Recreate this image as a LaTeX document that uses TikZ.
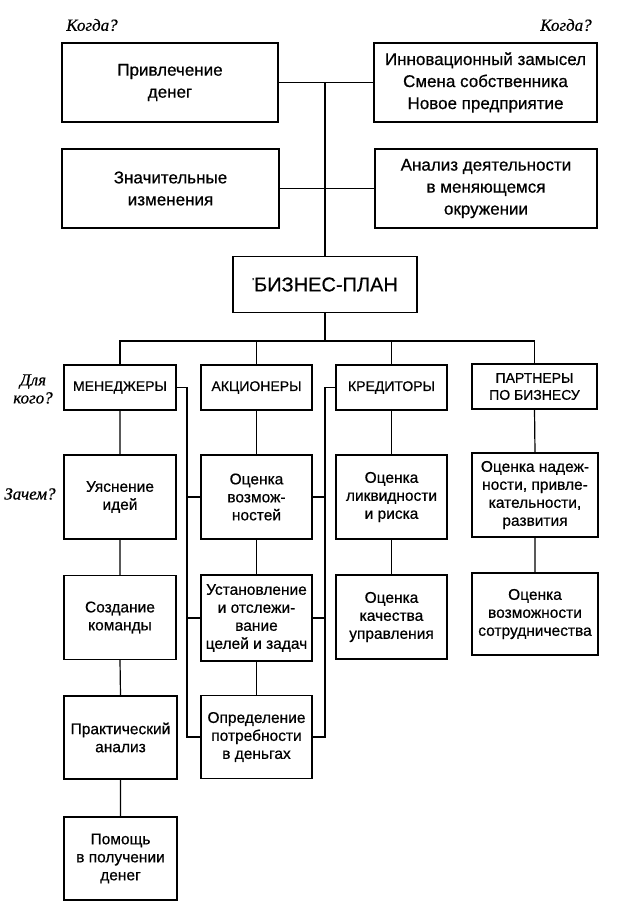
\documentclass[tikz,border=0pt]{standalone}
\usepackage{fontspec}
\setmainfont{Liberation Sans}[FakeBold=0.6]
\newfontfamily\labelfont{Liberation Serif}[FakeBold=0.6]
\begin{document}
\begin{tikzpicture}[x=1pt,y=-1pt,
  box/.style={draw, line width=1.3pt, inner sep=0pt, outer sep=0pt, align=center, text=black},
  big/.style={box, font=\fontsize{17}{22}\selectfont},
  capbox/.style={box, font=\fontsize{14}{17}\selectfont, minimum height=45pt},
  small/.style={box, font=\fontsize{15.5}{18}\selectfont},
  conn/.style={line width=1.2pt},
  lbl/.style={font=\labelfont\itshape\fontsize{17}{18}\selectfont, inner sep=0pt, align=center}]
\useasboundingbox (0,0) rectangle (625,909);

% labels
\node[lbl] (q1) at (92,25) {Когда?};
\node[lbl] (q2) at (566,25) {Когда?};
\node[lbl] (q3) at (33,389) {Для\\кого?};
\node[lbl] (q4) at (30,494) {Зачем?};

% top boxes
\node[big, minimum width=216pt, minimum height=79pt] (b1) at (170,82.5) {Привлечение\\денег};
\node[big, minimum width=223pt, minimum height=79pt] (b2) at (485.5,82.5) {Инновационный замысел\\Смена собственника\\Новое предприятие};
\node[big, minimum width=217pt, minimum height=79pt] (b3) at (170.5,188.5) {Значительные\\изменения};
\node[big, minimum width=222pt, minimum height=79pt] (b4) at (486,188.5) {Анализ деятельности\\в меняющемся\\окружении};
\node[box, minimum width=184pt, minimum height=56pt, font=\fontsize{20}{24}\selectfont] (bp) at (325,284.5) {\raisebox{7pt}{\fontsize{9}{9}\selectfont '}БИЗНЕС-ПЛАН};

% row 1
\node[capbox, minimum width=112pt] (m1) at (120,387.5) {МЕНЕДЖЕРЫ};
\node[capbox, minimum width=111pt] (a1) at (256.5,387.5) {АКЦИОНЕРЫ};
\node[capbox, minimum width=111pt] (k1) at (391.5,387.5) {КРЕДИТОРЫ};
\node[capbox, minimum width=125pt] (p1) at (534.5,386.5) {ПАРТНЕРЫ\\ПО БИЗНЕСУ};

% column 1
\node[small, minimum width=112pt, minimum height=84pt] (m2) at (120,497) {Уяснение\\идей};
\node[small, minimum width=112pt, minimum height=84pt] (m3) at (120,617.5) {Создание\\команды};
\node[small, minimum width=113pt, minimum height=83pt] (m4) at (120.5,737.5) {Практический\\анализ};
\node[small, minimum width=113pt, minimum height=83pt] (m5) at (120.5,858.5) {Помощь\\в получении\\денег};

% column 2
\node[small, minimum width=111pt, minimum height=84pt] (a2) at (256.5,497) {Оценка\\возмож-\\ностей};
\node[small, minimum width=111pt, minimum height=86pt] (a3) at (256.5,618) {Установление\\и отслежи-\\вание\\целей и задач};
\node[small, minimum width=111pt, minimum height=83pt] (a4) at (256.5,737) {Определение\\потребности\\в деньгах};

% column 3
\node[small, minimum width=111pt, minimum height=84pt] (k2) at (391.5,497) {Оценка\\ликвидности\\и риска};
\node[small, minimum width=111pt, minimum height=84pt] (k3) at (391.5,617) {Оценка\\качества\\управления};

% column 4
\node[small, minimum width=126pt, minimum height=84pt] (p2) at (535,495) {Оценка надеж-\\ности, привле-\\кательности,\\развития};
\node[small, minimum width=126pt, minimum height=82pt] (p3) at (535,614) {Оценка\\возможности\\сотрудничества};

% connectors top
\draw[conn] (b1.east) -- (b2.west);
\draw[conn] (b3.east) -- (b4.west);
\draw[conn] (bp.north) -- (bp.north |- b1.east);
\coordinate (bus) at (325,341);
\draw[conn] (bp.south) -- (bus);
\draw[conn] (m1.north) |- (bus) -| (p1.north);
\draw[conn] (a1.north) -- (a1.north |- bus);
\draw[conn] (k1.north) -- (k1.north |- bus);

% columns
\draw[conn] (m1.south) -- (m2.north) (m2.south) -- (m3.north) (m3.south) -- (m4.north) (m4.south) -- (m5.north);
\draw[conn] (a1.south) -- (a2.north) (a2.south) -- (a3.north) (a3.south) -- (a4.north);
\draw[conn] (k1.south) -- (k2.north) (k2.south) -- (k3.north);
\draw[conn] (p1.south) -- (p2.north) (p2.south) -- (p3.north);

% side lines
\coordinate (lv) at (187,0);
\coordinate (rv) at (325,0);
\draw[conn] (m1.east) -- (m1.east -| lv) |- (a4.west);
\draw[conn] (a2.west) -- (a2.west -| lv);
\draw[conn] (a3.west) -- (a3.west -| lv);
\draw[conn] (k1.west) -- (k1.west -| rv) |- (a4.east);
\draw[conn] (a2.east) -- (a2.east -| rv);
\draw[conn] (a3.east) -- (a3.east -| rv);
\end{tikzpicture}
\end{document}
